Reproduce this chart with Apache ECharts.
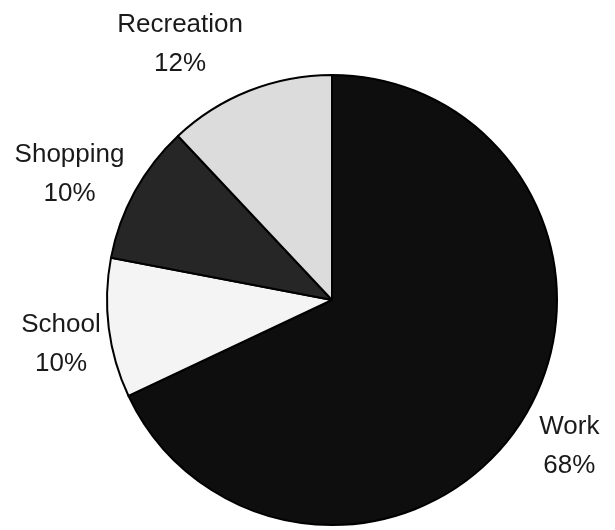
<!DOCTYPE html>
<html><head><meta charset="utf-8">
<script src="https://cdn.jsdelivr.net/npm/echarts@6/dist/echarts.min.js"></script>
<style>html,body{margin:0;padding:0;background:#fff}#c{width:615px;height:530px}</style>
</head><body><div id="c"></div>
<script>
const categories = ['Work', 'School', 'Shopping', 'Recreation'];
const values = [68, 10, 10, 12];
const sliceColors = ['#0e0e0e', '#f4f4f4', '#262626', '#dcdcdc'];

const chart = echarts.init(document.getElementById('c'), null, {renderer: 'canvas'});
chart.setOption({
  animation: false,
  backgroundColor: '#ffffff',
  series: [{
    type: 'pie',
    center: [332, 300],
    radius: [0, 225],
    startAngle: 90,
    clockwise: true,
    data: categories.map((c, i) => ({name: c, value: values[i], itemStyle: {color: sliceColors[i]}})),
    itemStyle: {borderColor: '#000', borderWidth: 2},
    label: {
      show: true,
      position: 'outside',
      formatter: '{b}\n{d}%',
      fontFamily: 'Liberation Sans, Arial, sans-serif',
      fontSize: 26,
      lineHeight: 39,
      color: '#1a1a1a',
      overflow: 'none',
      align: 'center'
    },
    labelLine: {show: false, length: 30, length2: 0},
    labelLayout: function (p) {
      const adj = [[17, 10], [-13, 12], [-34, -3], [-53, -19]][p.dataIndex];
      return {dx: adj[0], dy: adj[1], align: 'center', verticalAlign: 'middle'};
    }
  }]
});
</script></body></html>
